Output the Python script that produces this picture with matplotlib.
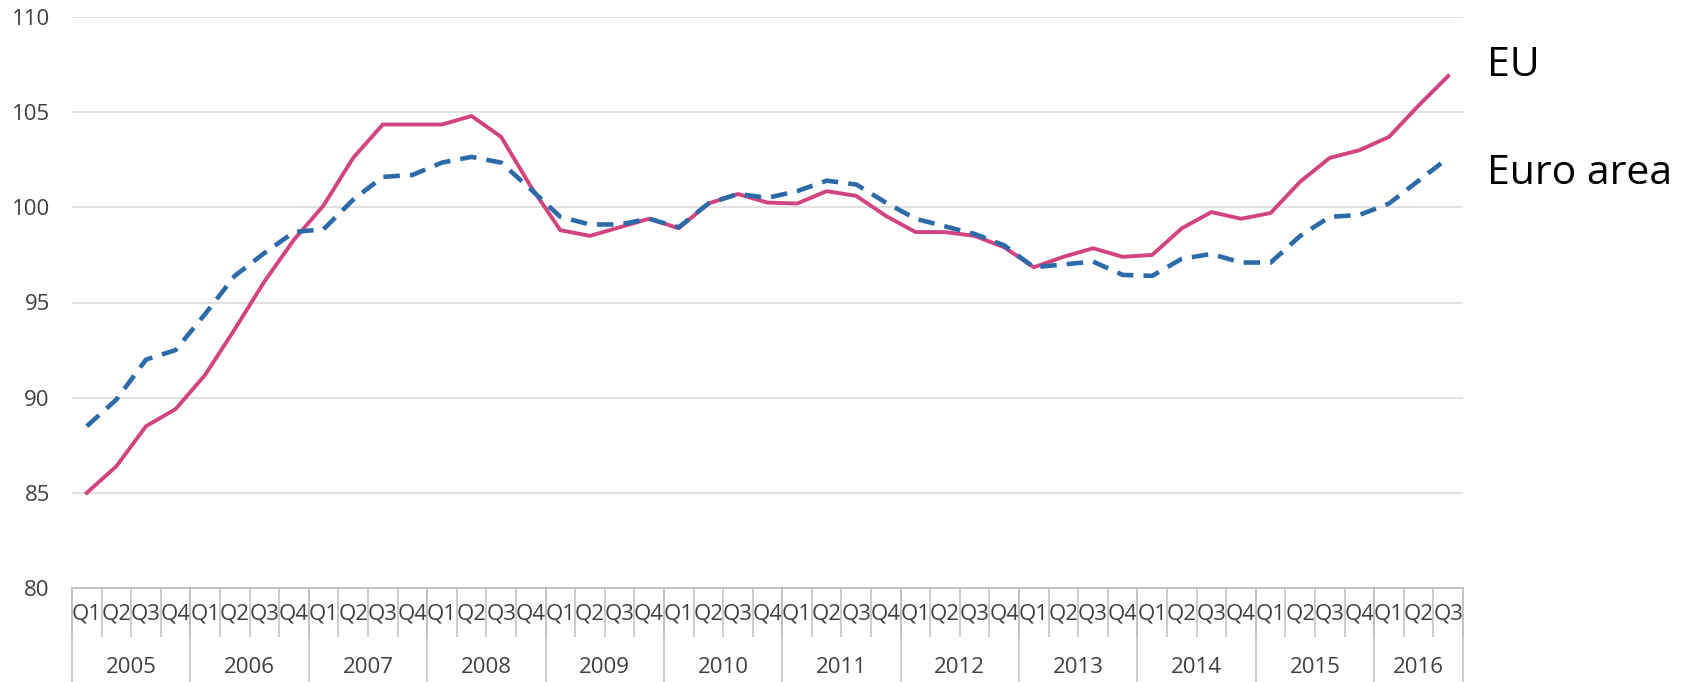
import matplotlib
matplotlib.use("Agg")
import matplotlib.pyplot as plt
from matplotlib.transforms import blended_transform_factory

plt.rcParams['font.family'] = ['Open Sans', 'DejaVu Sans']

years = ['2005', '2006', '2007', '2008', '2009', '2010', '2011',
         '2012', '2013', '2014', '2015', '2016']
quarters = ['Q1', 'Q2', 'Q3', 'Q4']
# quarterly periods 2005Q1 .. 2016Q3
n_periods = 47

eu = [85.0, 86.4, 88.5, 89.4, 91.2, 93.6, 96.1, 98.3,
      100.1, 102.6, 104.35, 104.35, 104.35, 104.8, 103.7, 101.1,
      98.8, 98.5, 98.95, 99.4, 98.9, 100.2, 100.7, 100.25,
      100.2, 100.85, 100.6, 99.55, 98.7, 98.7, 98.5, 97.9,
      96.85, 97.4, 97.85, 97.4, 97.5, 98.9, 99.75, 99.4,
      99.7, 101.35, 102.6, 103.0, 103.7, 105.35, 106.9]
euro_area = [88.5, 89.9, 92.0, 92.5, 94.4, 96.4, 97.6, 98.7,
             98.85, 100.4, 101.6, 101.7, 102.35, 102.65, 102.35, 100.95,
             99.5, 99.1, 99.1, 99.4, 98.95, 100.2, 100.7, 100.5,
             100.85, 101.4, 101.2, 100.25, 99.4, 99.0, 98.6, 98.0,
             96.85, 97.0, 97.15, 96.45, 96.4, 97.3, 97.55, 97.1,
             97.1, 98.5, 99.5, 99.6, 100.2, 101.4, 102.6]

W, H = 1688, 682
fig = plt.figure(figsize=(W / 100, H / 100), dpi=100)
ax = fig.add_axes([72 / W, (H - 588) / H, (1463 - 72) / W, (588 - 17) / H])

x = list(range(n_periods))
ax.plot(x, eu, color='#d2447f', lw=2.8, solid_joinstyle='round', zorder=3)
ax.plot(x, euro_area, color='#2d6aa8', lw=3.3, dashes=(3.6, 2.2),
        dash_capstyle='butt', zorder=3)

ax.set_xlim(-0.5, n_periods - 0.5)
ax.set_ylim(80, 110)

label_color = '#404040'

# y axis
ax.set_yticks(range(80, 111, 5))
ax.tick_params(axis='y', length=0, pad=16, labelsize=16, labelcolor=label_color)
ax.grid(axis='y', color='#d9d9d9', lw=1.1)
ax.set_axisbelow(True)

for side in ['left', 'right', 'top']:
    ax.spines[side].set_visible(False)
ax.spines['bottom'].set_color('#bfbfbf')
ax.spines['bottom'].set_linewidth(1.3)

# quarter labels on minor ticks, boundaries on major ticks
ax.set_xticks([i - 0.5 for i in range(n_periods + 1)])
ax.set_xticklabels([])
ax.tick_params(axis='x', which='major', length=35, width=1.1, color='#bfbfbf',
               direction='out')
ax.set_xticks(x, minor=True)
ax.set_xticklabels([quarters[i % 4] for i in x], minor=True)
ax.tick_params(axis='x', which='minor', length=0, pad=11, labelsize=16,
               labelcolor=label_color)

# year labels and year separators
trans = blended_transform_factory(ax.transData, ax.transAxes)
for k, yr in enumerate(years):
    first = 4 * k
    last = min(4 * k + 3, n_periods - 1)
    ax.text((first + last) / 2, -0.14, yr, transform=trans, ha='center',
            va='center', fontsize=16, color=label_color)
for b in list(range(0, n_periods, 4)) + [n_periods]:
    ax.plot([b - 0.5, b - 0.5], [0, -0.2], transform=trans, color='#bfbfbf',
            lw=1.1, clip_on=False)

# series names
fig.text(1487 / W, 1 - 66 / H, 'EU', fontsize=29.5, color='black',
         ha='left', va='center')
fig.text(1487 / W, 1 - 174 / H, 'Euro area', fontsize=29.5, color='black',
         ha='left', va='center')

fig.savefig('out.png', dpi=100, facecolor='white')
